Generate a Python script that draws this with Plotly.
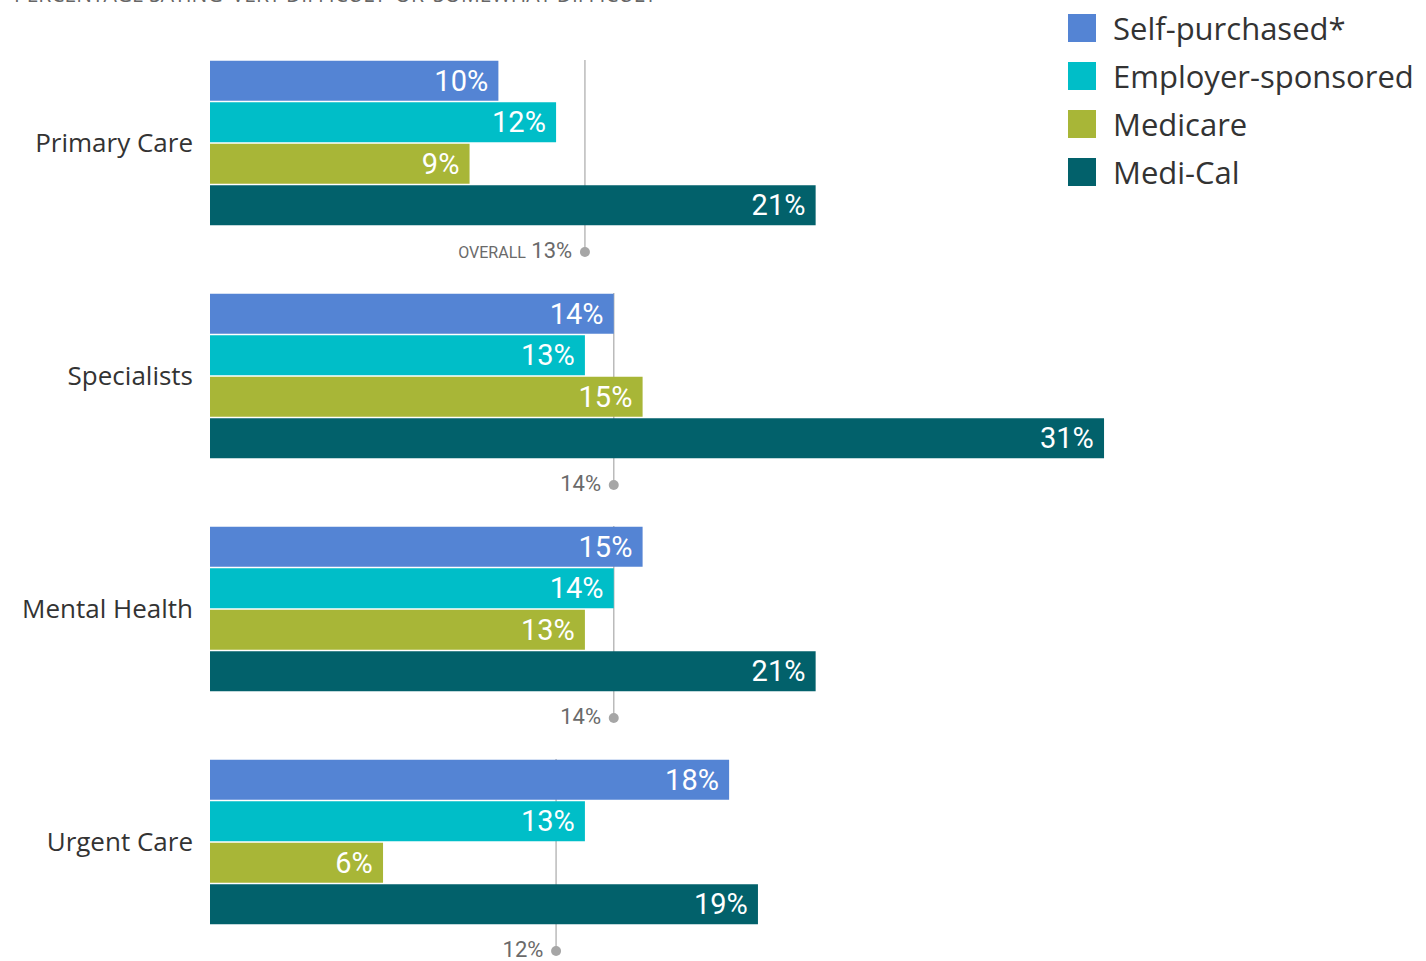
import plotly.graph_objects as go

# Survey results: share saying access was "very" or "somewhat" difficult
categories = ["Primary Care", "Specialists", "Mental Health", "Urgent Care"]
series_names = ["Self-purchased*", "Employer-sponsored", "Medicare", "Medi-Cal"]
self_purchased = [10, 14, 15, 18]
employer_sponsored = [12, 13, 14, 13]
medicare = [9, 15, 13, 6]
medi_cal = [21, 31, 21, 19]
overall = [13, 14, 14, 12]
overall_labels = ["OVERALL", "", "", ""]

series_values = [self_purchased, employer_sponsored, medicare, medi_cal]
colors = ["#5484D4", "#00BEC8", "#A8B637", "#02616B"]

NARROW = "Roboto, sans-serif"

W, H = 1426, 961
px_per_pct = 28.84
left_px = 210

fig = go.Figure()

group_pos = list(range(len(categories)))

for name, vals, col in zip(series_names, series_values, colors):
    fig.add_trace(go.Bar(
        y=group_pos, x=vals, orientation="h", name=name,
        marker=dict(color=col, line=dict(width=0)),
        text=[f"{v}%\u00a0" for v in vals], textposition="inside",
        insidetextanchor="end",
        textfont=dict(family=NARROW, size=29, color="white"),
        cliponaxis=False, showlegend=False,
    ))

# Overall reference markers: vertical rule, dot and value label
line_top = -0.356
dot_off = 0.468
for g, (ov, lab) in enumerate(zip(overall, overall_labels)):
    fig.add_shape(type="line", x0=ov, x1=ov, y0=g + line_top, y1=g + dot_off,
                  xref="x", yref="y", layer="below",
                  line=dict(color="#BBBBBB", width=1.5))
    txt = (f"<span style='font-size:16px'>{lab}</span> {ov}%" if lab else f"{ov}%")
    fig.add_trace(go.Scatter(
        x=[ov], y=[g + dot_off], mode="markers+text",
        marker=dict(color="#A6A6A6", size=10),
        text=[txt + " "], textposition="middle left",
        textfont=dict(family=NARROW, size=22, color="#6A6A6A"),
        showlegend=False, hoverinfo="skip", cliponaxis=False,
    ))

# Custom legend with large swatches
leg_x0, leg_y0, leg_step, sw = 1068, 28, 48, 28
for i, (name, col) in enumerate(zip(series_names, colors)):
    cy = leg_y0 + i * leg_step
    fig.add_shape(type="rect", xref="paper", yref="paper",
                  x0=(leg_x0 - left_px) / (W - left_px),
                  x1=(leg_x0 + sw - left_px) / (W - left_px),
                  y0=1 - (cy - sw / 2) / H, y1=1 - (cy + sw / 2) / H,
                  fillcolor=col, line=dict(width=0))
    fig.add_annotation(xref="paper", yref="paper",
                       x=(1111 - left_px) / (W - left_px), y=1 - cy / H,
                       xanchor="left", yanchor="middle", showarrow=False,
                       text=name,
                       font=dict(family="Open Sans, sans-serif", size=31,
                                 color="#333333"))

# Heading along the top edge
fig.add_annotation(xref="paper", yref="paper", x=(12 - left_px) / (W - left_px),
                   y=1, xanchor="left", yanchor="bottom", yshift=-10,
                   showarrow=False,
                   text="PERCENTAGE SAYING \u2018VERY DIFFICULT\u2019 OR \u2018SOMEWHAT DIFFICULT\u2019",
                   font=dict(family="Open Sans, sans-serif", size=21, color="#666666"))

center0 = 143
pitch = 233
fig.update_layout(
    width=W, height=H,
    margin=dict(l=left_px, r=0, t=0, b=0),
    paper_bgcolor="white", plot_bgcolor="white",
    barmode="group", bargap=0.2876, bargroupgap=0.036,
    xaxis=dict(range=[0, (W - left_px) / px_per_pct], visible=False, fixedrange=True),
    yaxis=dict(range=[(H - center0) / pitch, -center0 / pitch],
               tickmode="array", tickvals=group_pos, ticktext=categories,
               showgrid=False, zeroline=False, showline=False, ticks="",
               ticklabelstandoff=16,
               tickfont=dict(family="Open Sans, sans-serif", size=26, color="#333333")),
    showlegend=False,
)

fig.write_html("out.html")
